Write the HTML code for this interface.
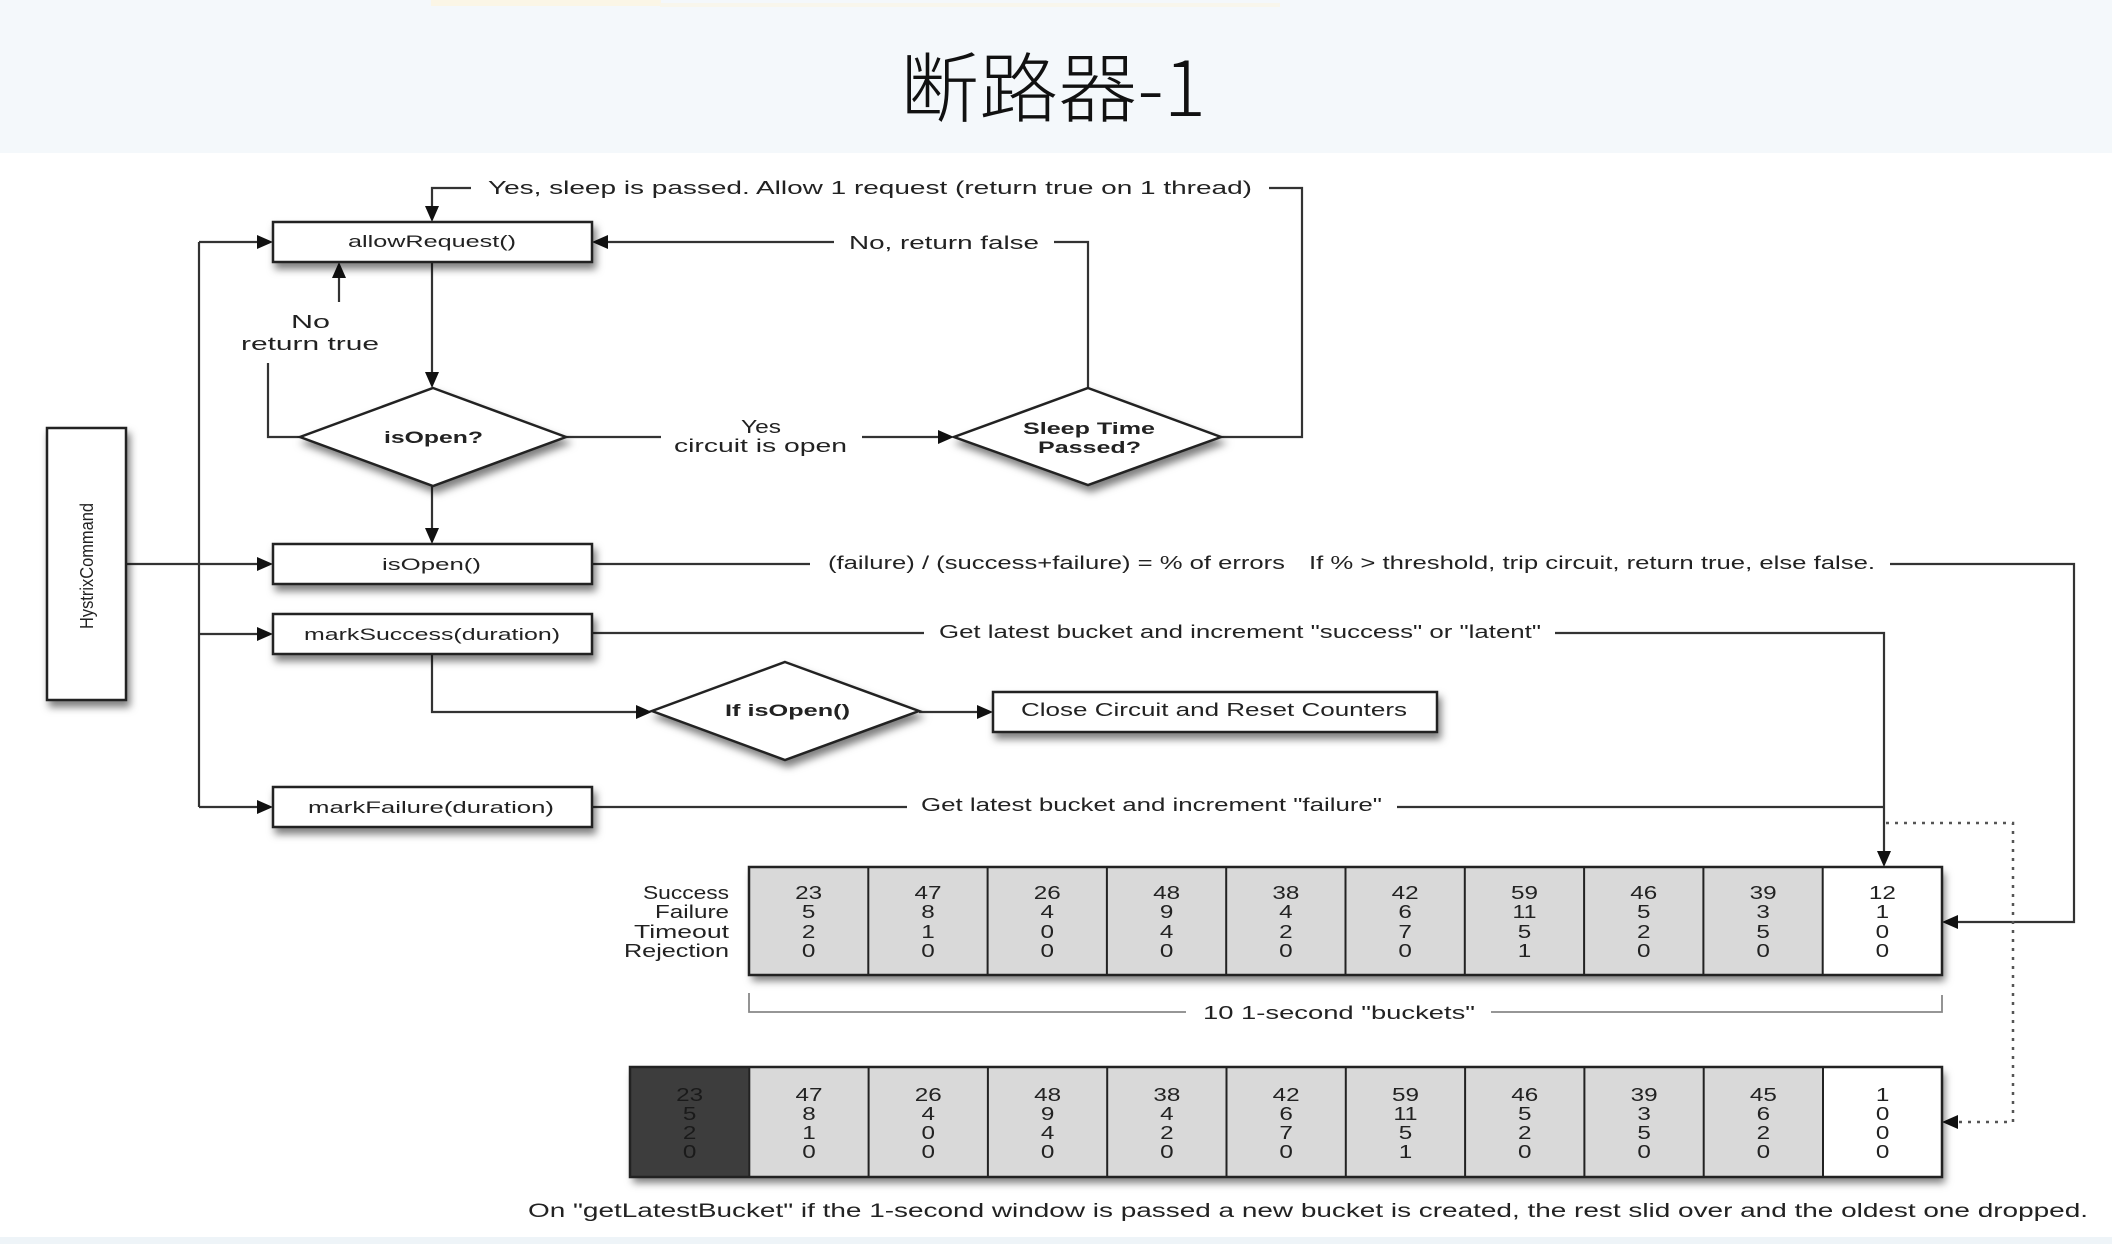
<!DOCTYPE html>
<html>
<head>
<meta charset="utf-8">
<style>
html,body{margin:0;padding:0;background:#fff;}
body{width:2112px;height:1244px;overflow:hidden;}
svg{display:block;}
text{font-family:"Liberation Sans","Noto Sans CJK SC",sans-serif;fill:#222;}
.t{font-size:18px;}
.b{font-size:17px;font-weight:bold;}
.n{font-size:18px;text-anchor:middle;}
.ln{stroke:#333;stroke-width:2.2;fill:none;}
.box{fill:#fff;stroke:#222;stroke-width:2.5;}
.ah{fill:#111;}
</style>
</head>
<body>
<svg width="2112" height="1244" viewBox="0 0 2112 1244" xmlns="http://www.w3.org/2000/svg">
<defs>
<filter id="sh" x="-10%" y="-20%" width="130%" height="160%">
<feDropShadow dx="3" dy="6" stdDeviation="4" flood-color="#000" flood-opacity="0.5"/>
</filter>
</defs>

<!-- header -->
<rect x="0" y="0" width="2112" height="153" fill="#f4f8fb"/>
<rect x="431" y="0" width="230" height="6" fill="#fbf6e6"/>
<rect x="660" y="3" width="620" height="4" fill="#f8f6ec"/>
<text x="900" y="116" textLength="306" lengthAdjust="spacingAndGlyphs" style="font-family:'Noto Sans CJK SC Light','Noto Sans CJK SC','WenQuanYi Zen Hei',sans-serif;font-weight:300;font-size:76px;fill:#111;">断路器-1</text>
<rect x="0" y="1237" width="2112" height="7" fill="#eef4f8"/>

<!-- connector lines -->
<polyline class="ln" points="1221,437 1302,437 1302,188 1269,188"/>
<polyline class="ln" points="471,188 432,188 432,208"/>
<polyline class="ln" points="1088,388 1088,242 1054,242"/>
<line class="ln" x1="834" y1="242" x2="606" y2="242"/>
<line class="ln" x1="199" y1="242" x2="199" y2="807"/>
<line class="ln" x1="199" y1="242" x2="260" y2="242"/>
<line class="ln" x1="199" y1="634" x2="260" y2="634"/>
<line class="ln" x1="199" y1="807" x2="260" y2="807"/>
<line class="ln" x1="126" y1="564" x2="260" y2="564"/>
<line class="ln" x1="432" y1="262" x2="432" y2="374"/>
<polyline class="ln" points="300,437 268,437 268,363"/>
<line class="ln" x1="339" y1="302" x2="339" y2="276"/>
<line class="ln" x1="566" y1="437" x2="661" y2="437"/>
<line class="ln" x1="862" y1="437" x2="940" y2="437"/>
<line class="ln" x1="432" y1="486" x2="432" y2="530"/>
<line class="ln" x1="592" y1="564" x2="810" y2="564"/>
<polyline class="ln" points="1890,564 2074,564 2074,922 1956,922"/>
<line class="ln" x1="592" y1="633" x2="924" y2="633"/>
<polyline class="ln" points="1555,633 1884,633 1884,853"/>
<polyline class="ln" points="432,654 432,712 638,712"/>
<line class="ln" x1="919" y1="712" x2="979" y2="712"/>
<line class="ln" x1="592" y1="807" x2="907" y2="807"/>
<line class="ln" x1="1397" y1="807" x2="1884" y2="807"/>
<polyline points="1886,823 2013,823 2013,1122 1956,1122" fill="none" stroke="#555" stroke-width="2.5" stroke-dasharray="3,6"/>
<polyline points="749,993 749,1012 1186,1012" fill="none" stroke="#888" stroke-width="1.8"/>
<polyline points="1491,1012 1942,1012 1942,995" fill="none" stroke="#888" stroke-width="1.8"/>

<!-- arrowheads -->
<polygon class="ah" points="432,222 425,206 439,206"/>
<polygon class="ah" points="273,242 257,235 257,249"/>
<polygon class="ah" points="592,242 608,235 608,249"/>
<polygon class="ah" points="339,262 332,278 346,278"/>
<polygon class="ah" points="432,388 425,372 439,372"/>
<polygon class="ah" points="954,437 938,430 938,444"/>
<polygon class="ah" points="432,544 425,528 439,528"/>
<polygon class="ah" points="273,564 257,557 257,571"/>
<polygon class="ah" points="273,634 257,627 257,641"/>
<polygon class="ah" points="652,712 636,705 636,719"/>
<polygon class="ah" points="993,712 977,705 977,719"/>
<polygon class="ah" points="273,807 257,800 257,814"/>
<polygon class="ah" points="1884,867 1877,851 1891,851"/>
<polygon class="ah" points="1942,922 1958,915 1958,929"/>
<polygon class="ah" points="1942,1122 1958,1115 1958,1129"/>

<!-- boxes -->
<g filter="url(#sh)">
<rect class="box" x="47" y="428" width="79" height="272"/>
<rect class="box" x="273" y="222" width="319" height="40"/>
<rect class="box" x="273" y="544" width="319" height="40"/>
<rect class="box" x="273" y="614" width="319" height="40"/>
<rect class="box" x="273" y="787" width="319" height="40"/>
<rect class="box" x="993" y="692" width="444" height="40"/>
<polygon class="box" points="433,388 566,437 433,486 300,437"/>
<polygon class="box" points="1088,388 1221,437 1088,485 954,437"/>
<polygon class="box" points="785,662 919,711 785,760 652,711"/>
<rect x="749" y="867" width="1193" height="108" fill="#d9d9d9"/>
<rect x="630" y="1067" width="1312" height="110" fill="#d9d9d9"/>
</g>

<!-- bucket row 1 -->
<rect x="1822.7" y="867" width="119.3" height="108" fill="#fff"/>
<rect x="749" y="867" width="1193" height="108" fill="none" stroke="#222" stroke-width="2.5"/>
<g stroke="#222" stroke-width="2">
<line x1="868.3" y1="867" x2="868.3" y2="975"/>
<line x1="987.6" y1="867" x2="987.6" y2="975"/>
<line x1="1106.9" y1="867" x2="1106.9" y2="975"/>
<line x1="1226.2" y1="867" x2="1226.2" y2="975"/>
<line x1="1345.5" y1="867" x2="1345.5" y2="975"/>
<line x1="1464.8" y1="867" x2="1464.8" y2="975"/>
<line x1="1584.1" y1="867" x2="1584.1" y2="975"/>
<line x1="1703.4" y1="867" x2="1703.4" y2="975"/>
<line x1="1822.7" y1="867" x2="1822.7" y2="975"/>
</g>

<!-- bucket row 2 -->
<rect x="630" y="1067" width="119.3" height="110" fill="#3d3d3d"/>
<rect x="1823" y="1067" width="119" height="110" fill="#fff"/>
<rect x="630" y="1067" width="1312" height="110" fill="none" stroke="#222" stroke-width="2.5"/>
<g stroke="#222" stroke-width="2">
<line x1="749.3" y1="1067" x2="749.3" y2="1177"/>
<line x1="868.6" y1="1067" x2="868.6" y2="1177"/>
<line x1="987.9" y1="1067" x2="987.9" y2="1177"/>
<line x1="1107.2" y1="1067" x2="1107.2" y2="1177"/>
<line x1="1226.5" y1="1067" x2="1226.5" y2="1177"/>
<line x1="1345.8" y1="1067" x2="1345.8" y2="1177"/>
<line x1="1465.1" y1="1067" x2="1465.1" y2="1177"/>
<line x1="1584.4" y1="1067" x2="1584.4" y2="1177"/>
<line x1="1703.7" y1="1067" x2="1703.7" y2="1177"/>
<line x1="1823" y1="1067" x2="1823" y2="1177"/>
</g>

<!-- texts: connectors -->
<text class="t" x="488" y="194" textLength="764" lengthAdjust="spacingAndGlyphs">Yes, sleep is passed.  Allow 1 request (return true on 1 thread)</text>
<text class="t" x="849" y="249" textLength="190" lengthAdjust="spacingAndGlyphs">No, return false</text>
<text class="t" x="291" y="328" textLength="39" lengthAdjust="spacingAndGlyphs">No</text>
<text class="t" x="241" y="350" textLength="138" lengthAdjust="spacingAndGlyphs">return true</text>
<text class="t" x="741" y="433" textLength="40" lengthAdjust="spacingAndGlyphs">Yes</text>
<text class="t" x="674" y="452" textLength="173" lengthAdjust="spacingAndGlyphs">circuit is open</text>
<text class="t" x="828" y="569" textLength="457" lengthAdjust="spacingAndGlyphs">(failure) / (success+failure) = % of errors</text>
<text class="t" x="1309" y="569" textLength="566" lengthAdjust="spacingAndGlyphs">If % &gt; threshold, trip circuit, return true, else false.</text>
<text class="t" x="939" y="638" textLength="602" lengthAdjust="spacingAndGlyphs">Get latest bucket and increment "success" or "latent"</text>
<text class="t" x="921" y="811" textLength="461" lengthAdjust="spacingAndGlyphs">Get latest bucket and increment "failure"</text>
<text class="t" x="1203" y="1019" textLength="272" lengthAdjust="spacingAndGlyphs">10 1-second "buckets"</text>
<text class="t" x="528" y="1217" textLength="1560" lengthAdjust="spacingAndGlyphs" style="font-size:19px">On "getLatestBucket" if the 1-second window is passed a new bucket is created, the rest slid over and the oldest one dropped.</text>

<!-- texts: nodes -->
<text class="t" x="348" y="247" textLength="168" lengthAdjust="spacingAndGlyphs" style="font-size:17px">allowRequest()</text>
<text class="t" x="382" y="570" textLength="99" lengthAdjust="spacingAndGlyphs" style="font-size:17px">isOpen()</text>
<text class="t" x="304" y="640" textLength="256" lengthAdjust="spacingAndGlyphs" style="font-size:17px">markSuccess(duration)</text>
<text class="t" x="308" y="813" textLength="246" lengthAdjust="spacingAndGlyphs" style="font-size:17px">markFailure(duration)</text>
<text class="t" x="1021" y="716" textLength="386" lengthAdjust="spacingAndGlyphs" style="font-size:18px">Close Circuit and Reset Counters</text>
<text class="b" x="384" y="443" textLength="99" lengthAdjust="spacingAndGlyphs">isOpen?</text>
<text class="b" x="1023" y="434" textLength="132" lengthAdjust="spacingAndGlyphs">Sleep Time</text>
<text class="b" x="1038" y="453" textLength="103" lengthAdjust="spacingAndGlyphs">Passed?</text>
<text class="b" x="725" y="716" textLength="125" lengthAdjust="spacingAndGlyphs">If isOpen()</text>
<text transform="translate(93,566) rotate(-90)" x="-63" y="0" textLength="126" lengthAdjust="spacingAndGlyphs" style="font-size:18px">HystrixCommand</text>

<!-- row labels -->
<text class="t" x="643" y="899" textLength="86" lengthAdjust="spacingAndGlyphs">Success</text>
<text class="t" x="655" y="918" textLength="74" lengthAdjust="spacingAndGlyphs">Failure</text>
<text class="t" x="634" y="938" textLength="95" lengthAdjust="spacingAndGlyphs">Timeout</text>
<text class="t" x="624" y="957" textLength="105" lengthAdjust="spacingAndGlyphs">Rejection</text>

<!-- row 1 numbers -->
<g>
<text class="n" x="808.7" y="899" textLength="27" lengthAdjust="spacingAndGlyphs">23</text>
<text class="n" x="808.7" y="918" textLength="13.5" lengthAdjust="spacingAndGlyphs">5</text>
<text class="n" x="808.7" y="938" textLength="13.5" lengthAdjust="spacingAndGlyphs">2</text>
<text class="n" x="808.7" y="957" textLength="13.5" lengthAdjust="spacingAndGlyphs">0</text>

<text class="n" x="928.0" y="899" textLength="27" lengthAdjust="spacingAndGlyphs">47</text>
<text class="n" x="928.0" y="918" textLength="13.5" lengthAdjust="spacingAndGlyphs">8</text>
<text class="n" x="928.0" y="938" textLength="13.5" lengthAdjust="spacingAndGlyphs">1</text>
<text class="n" x="928.0" y="957" textLength="13.5" lengthAdjust="spacingAndGlyphs">0</text>

<text class="n" x="1047.3" y="899" textLength="27" lengthAdjust="spacingAndGlyphs">26</text>
<text class="n" x="1047.3" y="918" textLength="13.5" lengthAdjust="spacingAndGlyphs">4</text>
<text class="n" x="1047.3" y="938" textLength="13.5" lengthAdjust="spacingAndGlyphs">0</text>
<text class="n" x="1047.3" y="957" textLength="13.5" lengthAdjust="spacingAndGlyphs">0</text>

<text class="n" x="1166.6" y="899" textLength="27" lengthAdjust="spacingAndGlyphs">48</text>
<text class="n" x="1166.6" y="918" textLength="13.5" lengthAdjust="spacingAndGlyphs">9</text>
<text class="n" x="1166.6" y="938" textLength="13.5" lengthAdjust="spacingAndGlyphs">4</text>
<text class="n" x="1166.6" y="957" textLength="13.5" lengthAdjust="spacingAndGlyphs">0</text>

<text class="n" x="1285.9" y="899" textLength="27" lengthAdjust="spacingAndGlyphs">38</text>
<text class="n" x="1285.9" y="918" textLength="13.5" lengthAdjust="spacingAndGlyphs">4</text>
<text class="n" x="1285.9" y="938" textLength="13.5" lengthAdjust="spacingAndGlyphs">2</text>
<text class="n" x="1285.9" y="957" textLength="13.5" lengthAdjust="spacingAndGlyphs">0</text>

<text class="n" x="1405.2" y="899" textLength="27" lengthAdjust="spacingAndGlyphs">42</text>
<text class="n" x="1405.2" y="918" textLength="13.5" lengthAdjust="spacingAndGlyphs">6</text>
<text class="n" x="1405.2" y="938" textLength="13.5" lengthAdjust="spacingAndGlyphs">7</text>
<text class="n" x="1405.2" y="957" textLength="13.5" lengthAdjust="spacingAndGlyphs">0</text>

<text class="n" x="1524.5" y="899" textLength="27" lengthAdjust="spacingAndGlyphs">59</text>
<text class="n" x="1524.5" y="918" textLength="24" lengthAdjust="spacingAndGlyphs">11</text>
<text class="n" x="1524.5" y="938" textLength="13.5" lengthAdjust="spacingAndGlyphs">5</text>
<text class="n" x="1524.5" y="957" textLength="13.5" lengthAdjust="spacingAndGlyphs">1</text>

<text class="n" x="1643.8" y="899" textLength="27" lengthAdjust="spacingAndGlyphs">46</text>
<text class="n" x="1643.8" y="918" textLength="13.5" lengthAdjust="spacingAndGlyphs">5</text>
<text class="n" x="1643.8" y="938" textLength="13.5" lengthAdjust="spacingAndGlyphs">2</text>
<text class="n" x="1643.8" y="957" textLength="13.5" lengthAdjust="spacingAndGlyphs">0</text>

<text class="n" x="1763.1" y="899" textLength="27" lengthAdjust="spacingAndGlyphs">39</text>
<text class="n" x="1763.1" y="918" textLength="13.5" lengthAdjust="spacingAndGlyphs">3</text>
<text class="n" x="1763.1" y="938" textLength="13.5" lengthAdjust="spacingAndGlyphs">5</text>
<text class="n" x="1763.1" y="957" textLength="13.5" lengthAdjust="spacingAndGlyphs">0</text>

<text class="n" x="1882.4" y="899" textLength="27" lengthAdjust="spacingAndGlyphs">12</text>
<text class="n" x="1882.4" y="918" textLength="13.5" lengthAdjust="spacingAndGlyphs">1</text>
<text class="n" x="1882.4" y="938" textLength="13.5" lengthAdjust="spacingAndGlyphs">0</text>
<text class="n" x="1882.4" y="957" textLength="13.5" lengthAdjust="spacingAndGlyphs">0</text>
</g>

<!-- row 2 numbers -->
<g>
<text class="n" x="689.7" y="1101" textLength="27" lengthAdjust="spacingAndGlyphs" style="fill:#1a1a1a">23</text>
<text class="n" x="689.7" y="1120" textLength="13.5" lengthAdjust="spacingAndGlyphs" style="fill:#1a1a1a">5</text>
<text class="n" x="689.7" y="1139" textLength="13.5" lengthAdjust="spacingAndGlyphs" style="fill:#1a1a1a">2</text>
<text class="n" x="689.7" y="1158" textLength="13.5" lengthAdjust="spacingAndGlyphs" style="fill:#1a1a1a">0</text>

<text class="n" x="809.0" y="1101" textLength="27" lengthAdjust="spacingAndGlyphs">47</text>
<text class="n" x="809.0" y="1120" textLength="13.5" lengthAdjust="spacingAndGlyphs">8</text>
<text class="n" x="809.0" y="1139" textLength="13.5" lengthAdjust="spacingAndGlyphs">1</text>
<text class="n" x="809.0" y="1158" textLength="13.5" lengthAdjust="spacingAndGlyphs">0</text>

<text class="n" x="928.3" y="1101" textLength="27" lengthAdjust="spacingAndGlyphs">26</text>
<text class="n" x="928.3" y="1120" textLength="13.5" lengthAdjust="spacingAndGlyphs">4</text>
<text class="n" x="928.3" y="1139" textLength="13.5" lengthAdjust="spacingAndGlyphs">0</text>
<text class="n" x="928.3" y="1158" textLength="13.5" lengthAdjust="spacingAndGlyphs">0</text>

<text class="n" x="1047.6" y="1101" textLength="27" lengthAdjust="spacingAndGlyphs">48</text>
<text class="n" x="1047.6" y="1120" textLength="13.5" lengthAdjust="spacingAndGlyphs">9</text>
<text class="n" x="1047.6" y="1139" textLength="13.5" lengthAdjust="spacingAndGlyphs">4</text>
<text class="n" x="1047.6" y="1158" textLength="13.5" lengthAdjust="spacingAndGlyphs">0</text>

<text class="n" x="1166.9" y="1101" textLength="27" lengthAdjust="spacingAndGlyphs">38</text>
<text class="n" x="1166.9" y="1120" textLength="13.5" lengthAdjust="spacingAndGlyphs">4</text>
<text class="n" x="1166.9" y="1139" textLength="13.5" lengthAdjust="spacingAndGlyphs">2</text>
<text class="n" x="1166.9" y="1158" textLength="13.5" lengthAdjust="spacingAndGlyphs">0</text>

<text class="n" x="1286.2" y="1101" textLength="27" lengthAdjust="spacingAndGlyphs">42</text>
<text class="n" x="1286.2" y="1120" textLength="13.5" lengthAdjust="spacingAndGlyphs">6</text>
<text class="n" x="1286.2" y="1139" textLength="13.5" lengthAdjust="spacingAndGlyphs">7</text>
<text class="n" x="1286.2" y="1158" textLength="13.5" lengthAdjust="spacingAndGlyphs">0</text>

<text class="n" x="1405.5" y="1101" textLength="27" lengthAdjust="spacingAndGlyphs">59</text>
<text class="n" x="1405.5" y="1120" textLength="24" lengthAdjust="spacingAndGlyphs">11</text>
<text class="n" x="1405.5" y="1139" textLength="13.5" lengthAdjust="spacingAndGlyphs">5</text>
<text class="n" x="1405.5" y="1158" textLength="13.5" lengthAdjust="spacingAndGlyphs">1</text>

<text class="n" x="1524.8" y="1101" textLength="27" lengthAdjust="spacingAndGlyphs">46</text>
<text class="n" x="1524.8" y="1120" textLength="13.5" lengthAdjust="spacingAndGlyphs">5</text>
<text class="n" x="1524.8" y="1139" textLength="13.5" lengthAdjust="spacingAndGlyphs">2</text>
<text class="n" x="1524.8" y="1158" textLength="13.5" lengthAdjust="spacingAndGlyphs">0</text>

<text class="n" x="1644.1" y="1101" textLength="27" lengthAdjust="spacingAndGlyphs">39</text>
<text class="n" x="1644.1" y="1120" textLength="13.5" lengthAdjust="spacingAndGlyphs">3</text>
<text class="n" x="1644.1" y="1139" textLength="13.5" lengthAdjust="spacingAndGlyphs">5</text>
<text class="n" x="1644.1" y="1158" textLength="13.5" lengthAdjust="spacingAndGlyphs">0</text>

<text class="n" x="1763.4" y="1101" textLength="27" lengthAdjust="spacingAndGlyphs">45</text>
<text class="n" x="1763.4" y="1120" textLength="13.5" lengthAdjust="spacingAndGlyphs">6</text>
<text class="n" x="1763.4" y="1139" textLength="13.5" lengthAdjust="spacingAndGlyphs">2</text>
<text class="n" x="1763.4" y="1158" textLength="13.5" lengthAdjust="spacingAndGlyphs">0</text>

<text class="n" x="1882.7" y="1101" textLength="13.5" lengthAdjust="spacingAndGlyphs">1</text>
<text class="n" x="1882.7" y="1120" textLength="13.5" lengthAdjust="spacingAndGlyphs">0</text>
<text class="n" x="1882.7" y="1139" textLength="13.5" lengthAdjust="spacingAndGlyphs">0</text>
<text class="n" x="1882.7" y="1158" textLength="13.5" lengthAdjust="spacingAndGlyphs">0</text>
</g>
</svg>
</body>
</html>
